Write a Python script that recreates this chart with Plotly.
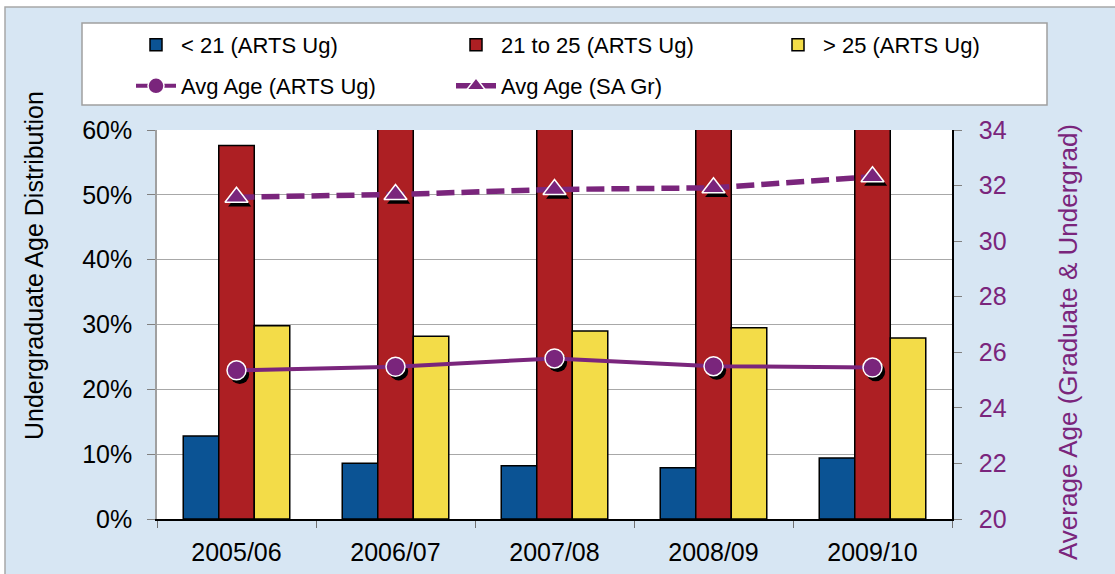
import plotly.graph_objects as go

years = ["2005/06", "2006/07", "2007/08", "2008/09", "2009/10"]
under21 = [12.8, 8.6, 8.2, 7.9, 9.4]
age21to25 = [57.6, 63.2, 62.8, 62.6, 62.7]
over25 = [29.8, 28.2, 29.0, 29.5, 27.9]
avg_arts_ug = [25.35, 25.48, 25.78, 25.5, 25.45]
avg_sa_gr = [31.58, 31.68, 31.86, 31.92, 32.32]

left_ticks = [0, 10, 20, 30, 40, 50, 60]
left_labels = [f"{v}%" for v in left_ticks]
right_ticks = [20, 22, 24, 26, 28, 30, 32, 34]

PURPLE = "#7a257c"
FONT = "Liberation Sans, Arial, sans-serif"

# shadow offsets (in axis units, used only to shift hidden overlay axes)
SH_X = 0.02   # ~3 px to the right
SH_Y = 0.15   # ~4 px down

fig = go.Figure()
bar_line = dict(color="black", width=1.5)
fig.add_trace(go.Bar(x=years, y=under21, name="< 21 (ARTS Ug)",
                     marker=dict(color="#0b5394", line=bar_line), legend="legend"))
fig.add_trace(go.Bar(x=years, y=age21to25, name="21 to 25 (ARTS Ug)",
                     marker=dict(color="#ad1f23", line=bar_line), legend="legend2"))
fig.add_trace(go.Bar(x=years, y=over25, name="> 25 (ARTS Ug)",
                     marker=dict(color="#f3dc48", line=bar_line), legend="legend3"))

# marker shadows on shifted hidden axes
fig.add_trace(go.Scatter(x=years, y=avg_arts_ug, xaxis="x2", yaxis="y3", mode="markers",
                         showlegend=False, hoverinfo="skip",
                         marker=dict(symbol="circle", size=19, color="black")))
fig.add_trace(go.Scatter(x=years, y=avg_sa_gr, xaxis="x2", yaxis="y3", mode="markers",
                         showlegend=False, hoverinfo="skip",
                         marker=dict(symbol="triangle-up", size=20, color="black")))

fig.add_trace(go.Scatter(x=years, y=avg_arts_ug, name="Avg Age (ARTS Ug)",
                         xaxis="x3", yaxis="y2",
                         mode="lines+markers", legend="legend4",
                         line=dict(color=PURPLE, width=4),
                         marker=dict(symbol="circle", size=19, color=PURPLE,
                                     line=dict(color="white", width=1.5))))
fig.add_trace(go.Scatter(x=years, y=avg_sa_gr, name="Avg Age (SA Gr)",
                         xaxis="x3", yaxis="y2",
                         mode="lines+markers", legend="legend5",
                         line=dict(color=PURPLE, width=5.5, dash="18px,7px"),
                         marker=dict(symbol="triangle-up", size=20, color=PURPLE,
                                     line=dict(color="white", width=1.5))))

def px_x(p):
    return (p - 157) / 795.0

def px_y(p):
    return (519 - p) / 389.0

def leg(xp, yp):
    return dict(orientation="h", x=px_x(xp), y=px_y(yp), xanchor="left", yanchor="middle",
                bgcolor="rgba(0,0,0,0)", font=dict(size=22), itemwidth=40)

fig.update_layout(
    width=1115, height=574,
    margin=dict(l=157, r=163, t=130, b=55, autoexpand=False),
    paper_bgcolor="white",
    plot_bgcolor="white",
    font=dict(family=FONT, size=22, color="black"),
    barmode="group",
    bargap=0.33,
    bargroupgap=0,
    showlegend=True,
    xaxis=dict(type="category", showgrid=False, showline=True, linecolor="black",
               linewidth=1.5, ticks="outside", tickson="boundaries", ticklen=7,
               tickcolor="#707070", tickfont=dict(size=25), range=[-0.5, 4.5],
               ticklabelstandoff=10, categoryorder="array", categoryarray=years),
    xaxis2=dict(type="category", overlaying="x", visible=False, anchor="y",
                range=[-0.5 - SH_X, 4.5 - SH_X], categoryorder="array", categoryarray=years),
    xaxis3=dict(type="category", overlaying="x", visible=False, anchor="y",
                range=[-0.5, 4.5], categoryorder="array", categoryarray=years),
    yaxis=dict(range=[0, 60], tickvals=left_ticks, ticktext=left_labels,
               showgrid=True, gridcolor="#a8a8a8", gridwidth=1,
               showline=True, linecolor="#a0a0a0", linewidth=1.5,
               ticks="outside", ticklen=8, tickcolor="#808080",
               tickfont=dict(size=25), ticklabelstandoff=10, zeroline=False),
    yaxis2=dict(range=[20, 34], tickvals=right_ticks, overlaying="y", side="right",
                anchor="x", showgrid=False, showline=True, linecolor="black", linewidth=1.5,
                ticks="outside", ticklen=8, tickcolor="#808080",
                tickfont=dict(size=25, color=PURPLE), ticklabelstandoff=12,
                zeroline=False),
    yaxis3=dict(range=[20 + SH_Y, 34 + SH_Y], overlaying="y", visible=False, anchor="x"),
    legend=leg(131, 45),
    legend2=leg(451, 45),
    legend3=leg(773, 45),
    legend4=leg(131, 86),
    legend5=leg(451, 86),
    annotations=[
        dict(text="Undergraduate Age Distribution", xref="paper", yref="paper",
             x=px_x(34), y=px_y(266), textangle=-90, showarrow=False,
             font=dict(size=25, color="black"), xanchor="center", yanchor="middle"),
        dict(text="Average Age (Graduate & Undergrad)", xref="paper", yref="paper",
             x=px_x(1068), y=px_y(342), textangle=-90, showarrow=False,
             font=dict(size=26, color=PURPLE), xanchor="center", yanchor="middle"),
    ],
    shapes=[
        dict(type="rect", xref="paper", yref="paper", x0=px_x(5), x1=px_x(1130),
             y0=px_y(590), y1=px_y(7), fillcolor="#d7e6f3",
             line=dict(color="#a8a8a8", width=1.5), layer="below"),
        dict(type="rect", xref="paper", yref="paper", x0=0, x1=1, y0=0, y1=1,
             fillcolor="white", line=dict(width=0), layer="below"),
        dict(type="rect", xref="paper", yref="paper", x0=px_x(82), x1=px_x(1047),
             y0=px_y(105), y1=px_y(23), fillcolor="white",
             line=dict(color="#a0a0a0", width=1.5), layer="below"),
    ],
)

fig.write_html("out.html", config={"displayModeBar": False},
               post_script="document.body.style.margin='0px';")
